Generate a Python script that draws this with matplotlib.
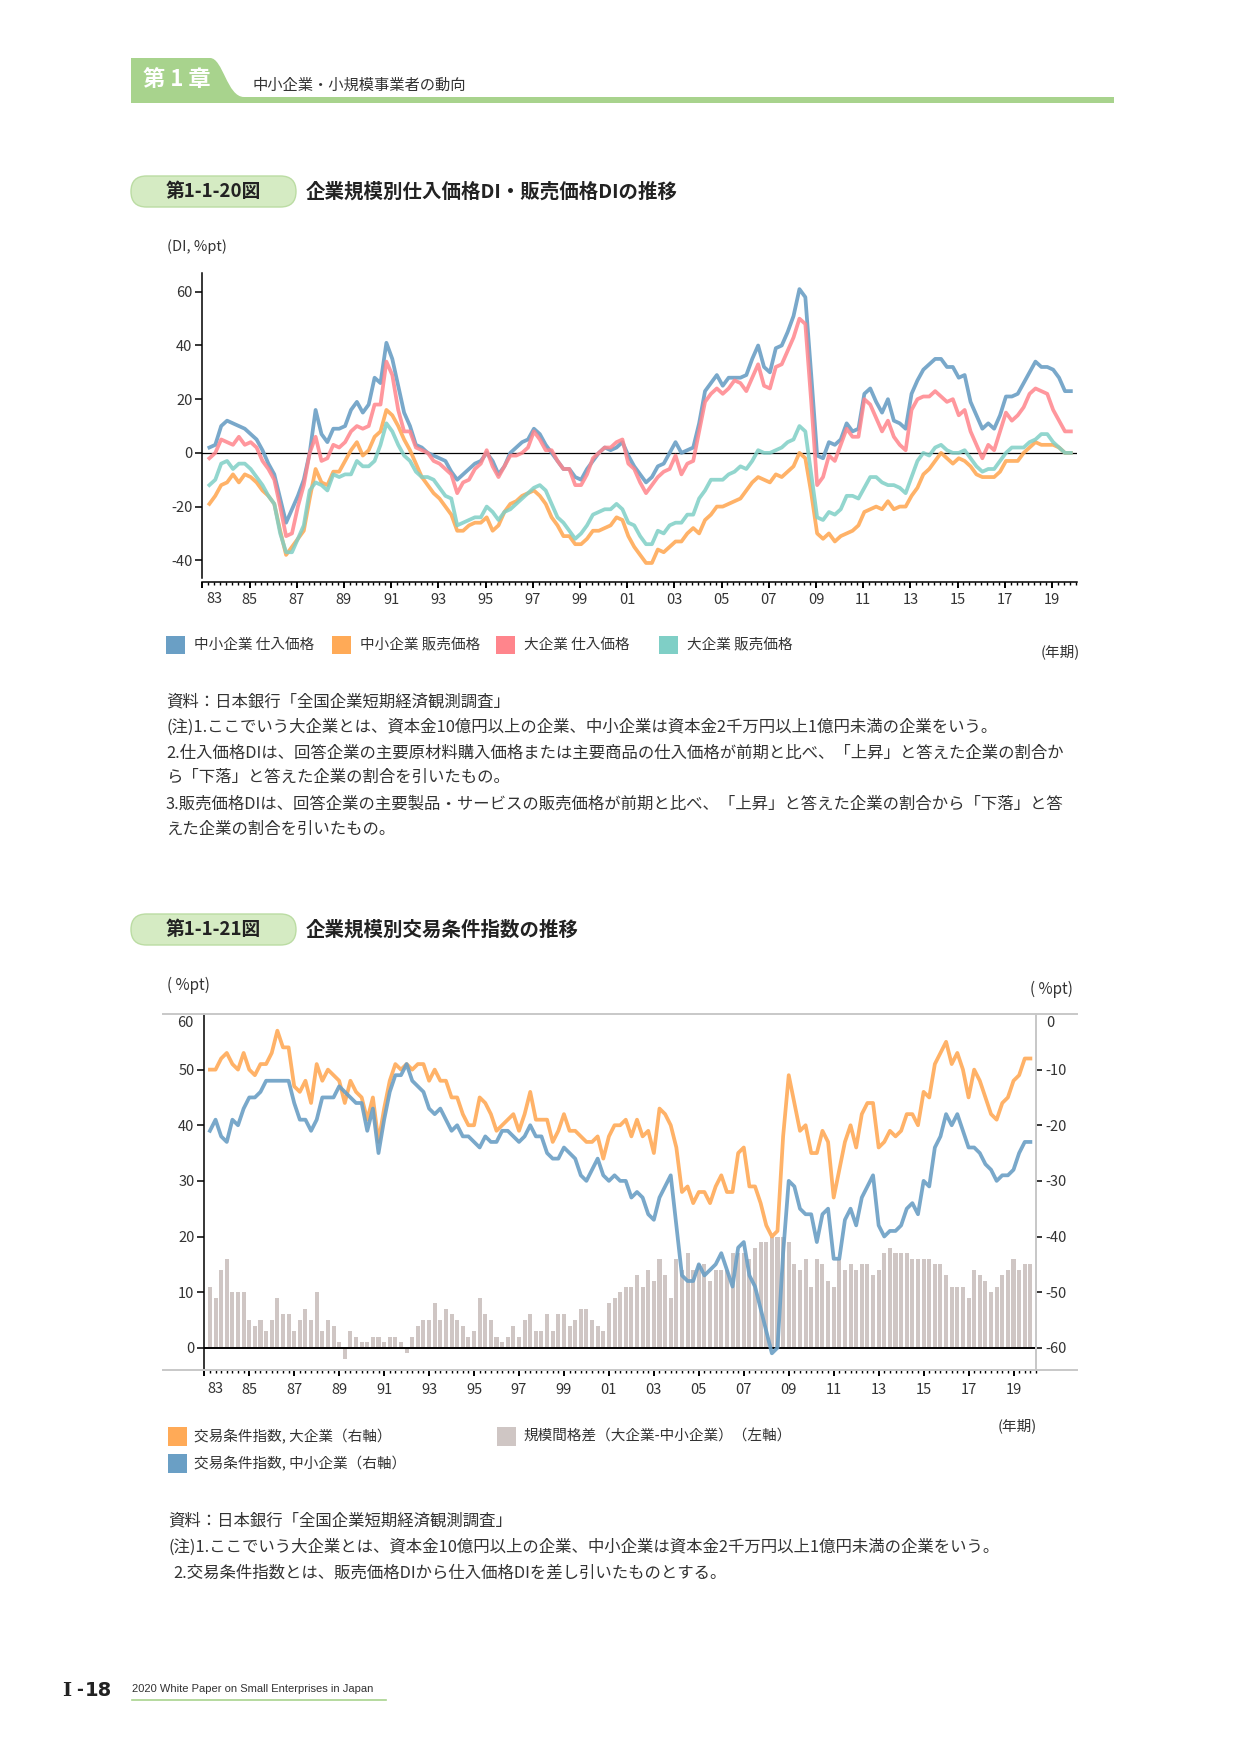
import matplotlib
matplotlib.use('Agg')
import matplotlib.pyplot as plt
from matplotlib.patches import Rectangle, FancyBboxPatch, PathPatch
from matplotlib.path import Path
import numpy as np
import pandas as pd

plt.rcParams['font.family'] = ['Noto Sans CJK JP', 'DejaVu Sans']
plt.rcParams['axes.unicode_minus'] = False

# quarterly survey points, 1983Q2 - 2019Q4
quarters = pd.period_range('1983Q2', '2019Q4', freq='Q')
years = np.asarray(quarters.year + (quarters.quarter - 1) / 4, dtype=float)

# ---- 第1-1-20図 : price DIs ----
small_buy = [2, 3, 10, 12, 11, 10, 9, 7, 5, 1,
             -4, -8, -17, -26, -21, -16, -10, 0, 16, 7,
             4, 9, 9, 10, 16, 19, 15, 18, 28, 26,
             41, 35, 25, 15, 10, 3, 2, 0, -1, -2,
             -3, -7, -10, -8, -6, -4, -3, 0, -3, -8,
             -5, 0, 2, 4, 5, 9, 7, 3, 0, -3,
             -6, -6, -9, -10, -6, -3, 0, 2, 1, 2,
             4, -1, -5, -8, -11, -9, -5, -4, 0, 4,
             0, 1, 2, 11, 23, 26, 29, 25, 28, 28,
             28, 29, 35, 40, 32, 30, 39, 40, 45, 51,
             61, 58, 29, -1, -2, 4, 3, 5, 11, 8,
             9, 22, 24, 19, 15, 20, 12, 11, 9, 22,
             27, 31, 33, 35, 35, 32, 32, 28, 29, 19,
             14, 9, 11, 9, 14, 21, 21, 22, 26, 30,
             34, 32, 32, 31, 28, 23, 23]
small_sell = [-19, -16, -12, -11, -8, -11, -8, -9, -11, -14,
              -16, -19, -29, -38, -35, -32, -29, -17, -6, -11,
              -12, -7, -7, -3, 1, 4, -1, 1, 6, 8,
              16, 14, 10, 5, 1, -4, -9, -12, -15, -17,
              -20, -23, -29, -29, -27, -26, -26, -24, -29, -27,
              -22, -19, -18, -16, -15, -14, -16, -19, -24, -27,
              -31, -31, -34, -34, -32, -29, -29, -28, -27, -24,
              -25, -31, -35, -38, -41, -41, -36, -37, -35, -33,
              -33, -30, -28, -30, -25, -23, -20, -20, -19, -18,
              -17, -14, -11, -9, -10, -11, -8, -9, -7, -5,
              0, -2, -15, -30, -32, -30, -33, -31, -30, -29,
              -27, -22, -21, -20, -21, -18, -21, -20, -20, -16,
              -13, -8, -6, -3, 0, -2, -4, -2, -3, -5,
              -8, -9, -9, -9, -7, -3, -3, -3, 0, 2,
              4, 3, 3, 3, 2, 0, 0]
large_buy = [-2, 0, 5, 4, 3, 6, 3, 4, 2, -3,
             -6, -10, -20, -31, -30, -20, -12, 0, 6, -3,
             -2, 3, 2, 4, 8, 10, 9, 10, 18, 18,
             34, 29, 16, 8, 8, 2, 1, 0, -3, -4,
             -6, -8, -15, -11, -10, -6, -4, 1, -5, -9,
             -5, -1, -1, 0, 2, 8, 5, 1, 1, -3,
             -6, -6, -12, -12, -8, -2, 0, 2, 2, 4,
             5, -4, -6, -11, -15, -12, -9, -7, -6, -1,
             -8, -4, -3, 8, 19, 22, 24, 22, 24, 27,
             26, 23, 28, 33, 25, 24, 32, 33, 38, 43,
             50, 48, 19, -12, -9, -1, -3, 3, 9, 6,
             6, 20, 18, 13, 8, 12, 6, 3, 1, 16,
             20, 21, 21, 23, 21, 19, 20, 14, 16, 8,
             3, -2, 3, 1, 8, 15, 12, 14, 17, 22,
             24, 23, 22, 16, 12, 8, 8]
large_sell = [-12, -10, -4, -3, -6, -4, -4, -6, -9, -12,
              -16, -19, -30, -37, -37, -32, -27, -14, -11, -12,
              -14, -8, -9, -8, -8, -3, -5, -5, -3, 3,
              11, 8, 3, -1, -3, -7, -9, -9, -10, -13,
              -16, -17, -27, -26, -25, -24, -24, -20, -22, -25,
              -22, -21, -19, -17, -15, -13, -12, -14, -19, -24,
              -26, -29, -32, -30, -27, -23, -22, -21, -21, -19,
              -21, -26, -27, -31, -34, -34, -29, -30, -27, -26,
              -26, -23, -23, -17, -14, -10, -10, -10, -8, -7,
              -5, -6, -3, 1, 0, 0, 1, 2, 4, 5,
              10, 8, -8, -24, -25, -22, -23, -21, -16, -16,
              -17, -13, -9, -9, -11, -12, -12, -13, -15, -9,
              -3, 0, -1, 2, 3, 1, 0, 0, 1, -2,
              -5, -7, -6, -6, -3, 0, 2, 2, 2, 4,
              5, 7, 7, 4, 2, 0, 0]

# ---- 第1-1-21図 : terms of trade ----
tot_large = [-10, -10, -8, -7, -9, -10, -7, -10, -11, -9,
             -9, -7, -3, -6, -6, -13, -14, -12, -16, -9,
             -12, -10, -11, -12, -16, -12, -14, -15, -19, -15,
             -23, -17, -12, -9, -10, -9, -10, -9, -9, -12,
             -10, -12, -12, -15, -15, -18, -20, -20, -15, -16,
             -18, -21, -20, -19, -18, -21, -18, -14, -19, -19,
             -19, -23, -21, -18, -21, -21, -22, -23, -23, -22,
             -26, -22, -20, -20, -19, -22, -19, -22, -21, -25,
             -17, -18, -20, -24, -32, -31, -34, -32, -32, -34,
             -31, -29, -32, -32, -25, -24, -31, -31, -34, -38,
             -40, -39, -22, -11, -16, -21, -20, -25, -25, -21,
             -23, -33, -28, -23, -20, -24, -18, -16, -16, -24,
             -23, -21, -22, -21, -18, -18, -20, -14, -15, -9,
             -7, -5, -9, -7, -10, -15, -10, -12, -15, -18,
             -19, -16, -15, -12, -11, -8, -8]
tot_small = [-21, -19, -22, -23, -19, -20, -17, -15, -15, -14,
             -12, -12, -12, -12, -12, -16, -19, -19, -21, -19,
             -15, -15, -15, -13, -14, -15, -16, -16, -21, -17,
             -25, -19, -14, -11, -11, -9, -12, -13, -14, -17,
             -18, -17, -19, -21, -20, -22, -22, -23, -24, -22,
             -23, -23, -21, -21, -22, -23, -22, -20, -22, -22,
             -25, -26, -26, -24, -25, -26, -29, -30, -28, -26,
             -29, -30, -29, -30, -30, -33, -32, -33, -36, -37,
             -33, -31, -29, -38, -47, -48, -48, -45, -47, -46,
             -45, -43, -46, -49, -42, -41, -47, -49, -53, -57,
             -61, -60, -43, -30, -31, -35, -36, -36, -41, -36,
             -35, -44, -44, -37, -35, -38, -33, -31, -29, -38,
             -40, -39, -39, -38, -35, -34, -36, -30, -31, -24,
             -22, -18, -20, -18, -21, -24, -24, -25, -27, -28,
             -30, -29, -29, -28, -25, -23, -23]
size_gap = [11, 9, 14, 16, 10, 10, 10, 5, 4, 5,
            3, 5, 9, 6, 6, 3, 5, 7, 5, 10,
            3, 5, 4, 1, -2, 3, 2, 1, 1, 2,
            2, 1, 2, 2, 1, -1, 2, 4, 5, 5,
            8, 5, 7, 6, 5, 4, 2, 3, 9, 6,
            5, 2, 1, 2, 4, 2, 5, 6, 3, 3,
            6, 3, 6, 6, 4, 5, 7, 7, 5, 4,
            3, 8, 9, 10, 11, 11, 13, 11, 14, 12,
            16, 13, 9, 16, 14, 17, 14, 15, 15, 12,
            14, 14, 14, 17, 17, 17, 16, 18, 19, 19,
            20, 20, 20, 19, 15, 14, 16, 11, 16, 15,
            12, 11, 16, 14, 15, 14, 15, 15, 13, 14,
            17, 18, 17, 17, 17, 16, 16, 16, 16, 15,
            15, 13, 11, 11, 11, 9, 14, 13, 12, 10,
            11, 13, 14, 16, 14, 15, 15]

BLUE = '#6A9FC5'
ORANGE = '#FFAA57'
RED = '#FF858C'
TEAL = '#7FCFC6'
GREY_BAR = '#CFC6C4'
GREEN = '#A8D38D'
TXT = '#333333'

W, H = 1241, 1754
fig = plt.figure(figsize=(W / 100, H / 100), dpi=100)


def box(l, t, r, b):
    # pixel box -> figure fraction rect
    return [l / W, 1 - b / H, (r - l) / W, (b - t) / H]


def year_labels():
    return [''] + [f'{y % 100:02d}' for y in range(1985, 2020, 2)]


# ---------------- chart 1 ----------------
ax1 = fig.add_axes(box(202.3, 273, 1077, 578))
ax1.patch.set_alpha(0)
x1 = years + 0.05
ax1.axhline(0, color='black', lw=0.9, zorder=1)
ax1.plot(x1, small_buy, color=BLUE, lw=2.7, alpha=0.9, zorder=3)
ax1.plot(x1, small_sell, color=ORANGE, lw=2.7, alpha=0.9, zorder=3)
ax1.plot(x1, large_buy, color=RED, lw=2.7, alpha=0.85, zorder=3)
ax1.plot(x1, large_sell, color=TEAL, lw=2.7, alpha=0.85, zorder=3)
ax1.set_xlim(1983, 2020.06)
ax1.set_ylim(-46.6, 67)
ax1.spines['top'].set_visible(False)
ax1.spines['right'].set_visible(False)
ax1.spines['bottom'].set_position(('outward', 3))
ax1.spines['left'].set_linewidth(1.1)
ax1.spines['bottom'].set_linewidth(1.1)
ax1.set_yticks(range(-40, 61, 20))
ax1.tick_params(axis='y', length=5, width=1.1, pad=2, labelsize=10.5, labelcolor=TXT)
ax1.set_xticks(range(1983, 2020, 2))
ax1.set_xticks(np.arange(1983, 2020.01, 0.25), minor=True)
ax1.set_xticklabels(year_labels())
ax1.tick_params(axis='x', which='major', length=4.5, width=1.4, pad=3, labelsize=10.5, labelcolor=TXT)
ax1.tick_params(axis='x', which='minor', length=2, width=1)

# ---------------- chart 2 ----------------
ax2 = fig.add_axes(box(204.3, 1014, 1036, 1370))
ax2.patch.set_alpha(0)
x2 = years
ax2.bar(x2, size_gap, width=0.18, color=GREY_BAR, zorder=2)
ax2.axhline(0, color='black', lw=1.4, zorder=3)
ax2.set_xlim(1983, 2020)
ax2.set_ylim(-4, 60)
ax2.spines['top'].set_visible(False)
ax2.spines['right'].set_color('#C8C8C8')
ax2.spines['right'].set_linewidth(1.4)
ax2.spines['bottom'].set_color('#C8C8C8')
ax2.spines['bottom'].set_linewidth(1.4)
ax2.spines['left'].set_linewidth(1.1)
ax2.set_yticks(range(0, 51, 10))
ax2.tick_params(axis='y', length=5, width=1.1, pad=2, labelsize=10.5, labelcolor=TXT)
ax2.set_xticks(range(1983, 2020, 2))
ax2.set_xticks(np.arange(1983, 2020.01, 0.25), minor=True)
ax2.set_xticklabels(year_labels())
ax2.tick_params(axis='x', which='major', length=4.5, width=1.4, pad=4.5, labelsize=10.5, labelcolor=TXT)
ax2.tick_params(axis='x', which='minor', length=2.2, width=1)

ax2r = ax2.twinx()
ax2r.plot(x2, tot_large, color=ORANGE, lw=2.7, alpha=0.9, zorder=3)
ax2r.plot(x2, tot_small, color=BLUE, lw=2.7, alpha=0.9, zorder=4)
ax2r.set_ylim(-64, 0)
ax2r.set_yticks(range(-60, -9, 10))
for s in ['top', 'left', 'bottom']:
    ax2r.spines[s].set_visible(False)
ax2r.spines['right'].set_color('#C8C8C8')
ax2r.spines['right'].set_linewidth(1.4)
ax2r.tick_params(axis='y', length=4.3, width=1.1, pad=2.5, labelsize=10.5, labelcolor=TXT)

# ---------------- page decorations (pixel overlay) ----------------
ov = fig.add_axes([0, 0, 1, 1])
ov.set_xlim(0, W)
ov.set_ylim(H, 0)
ov.axis('off')
ov.patch.set_alpha(0)

# chapter header
tab = Path([(131, 58), (210, 58), (223, 58), (227, 97), (244, 97), (131, 97), (131, 58)],
           [Path.MOVETO, Path.LINETO, Path.CURVE4, Path.CURVE4, Path.CURVE4, Path.LINETO, Path.CLOSEPOLY])
ov.add_patch(PathPatch(tab, facecolor=GREEN, edgecolor='none'))
ov.add_patch(Rectangle((131, 97), 983, 6, facecolor=GREEN, edgecolor='none'))
ov.text(143, 79, '第 1 章', color='white', fontsize=16, fontweight='bold', va='center', ha='left')
ov.text(253, 85, '中小企業・小規模事業者の動向', color=TXT, fontsize=11, va='center', ha='left')

# figure titles
for top, num, title in [(176, '第1-1-20図', '企業規模別仕入価格DI・販売価格DIの推移'),
                        (914, '第1-1-21図', '企業規模別交易条件指数の推移')]:
    ov.add_patch(FancyBboxPatch((131, top), 165, 31, boxstyle='round,pad=0,rounding_size=15.5',
                                facecolor='#D5EBC3', edgecolor='#BBDCA3', lw=1))
    ov.text(213, top + 15.5, num, fontsize=13.5, fontweight='bold', color='#222222', ha='center', va='center')
    ov.text(306, top + 15.5, title, fontsize=14, fontweight='bold', color='#222222', ha='left', va='center')

# chart 1 texts
ov.text(167, 247, '(DI, %pt)', fontsize=10.5, color=TXT, va='center')
ov.text(214, 599, '83', fontsize=10.5, color=TXT, ha='center', va='center')
legend1 = [(166, BLUE, '中小企業 仕入価格'), (332, ORANGE, '中小企業 販売価格'),
           (496, RED, '大企業 仕入価格'), (659, TEAL, '大企業 販売価格')]
for lx, col, lab in legend1:
    ov.add_patch(Rectangle((lx, 636), 19, 18, facecolor=col, edgecolor='none'))
    ov.text(lx + 28, 645, lab, fontsize=10.5, color=TXT, va='center')
ov.text(1080, 652, '(年期)', fontsize=10.5, color=TXT, ha='right', va='center')

notes1 = ['資料：日本銀行「全国企業短期経済観測調査」',
          '(注)1.ここでいう大企業とは、資本金10億円以上の企業、中小企業は資本金2千万円以上1億円未満の企業をいう。',
          '2.仕入価格DIは、回答企業の主要原材料購入価格または主要商品の仕入価格が前期と比べ、「上昇」と答えた企業の割合か',
          'ら「下落」と答えた企業の割合を引いたもの。',
          '3.販売価格DIは、回答企業の主要製品・サービスの販売価格が前期と比べ、「上昇」と答えた企業の割合から「下落」と答',
          'えた企業の割合を引いたもの。']
for ny, line in zip([702, 727, 753, 777, 804, 829], notes1):
    ov.text(166, ny, line, fontsize=11.8, color=TXT, va='center')

# chart 2 frame lines and texts
ov.plot([163, 1077], [1014, 1014], color='#C8C8C8', lw=1.4)
ov.plot([163, 204.3], [1370, 1370], color='#C8C8C8', lw=1.4)
ov.plot([1036, 1077], [1370, 1370], color='#C8C8C8', lw=1.4)
ov.text(167, 985, '( %pt)', fontsize=11, color=TXT, va='center')
ov.text(1030, 989, '( %pt)', fontsize=11, color=TXT, va='center')
ov.text(194, 1023, '60', fontsize=10.5, color=TXT, ha='right', va='center')
ov.text(1046, 1023, '0', fontsize=10.5, color=TXT, ha='left', va='center')
ov.text(215, 1389, '83', fontsize=10.5, color=TXT, ha='center', va='center')

legend2 = [(168, 1427, ORANGE, '交易条件指数, 大企業（右軸）'),
           (168, 1454, BLUE, '交易条件指数, 中小企業（右軸）'),
           (497, 1427, GREY_BAR, '規模間格差（大企業-中小企業）（左軸）')]
for lx, ly, col, lab in legend2:
    ov.add_patch(Rectangle((lx, ly), 19, 19, facecolor=col, edgecolor='none'))
    ov.text(lx + 26, ly + 10, lab, fontsize=10.5, color=TXT, va='center')
ov.text(1037, 1426, '(年期)', fontsize=10.5, color=TXT, ha='right', va='center')

notes2 = [(168, 1521, '資料：日本銀行「全国企業短期経済観測調査」'),
          (168, 1547, '(注)1.ここでいう大企業とは、資本金10億円以上の企業、中小企業は資本金2千万円以上1億円未満の企業をいう。'),
          (173, 1573, '2.交易条件指数とは、販売価格DIから仕入価格DIを差し引いたものとする。')]
for nx, ny, line in notes2:
    ov.text(nx, ny, line, fontsize=11.8, color=TXT, va='center')

# footer
ov.text(62, 1691, 'I', fontsize=14, fontweight='bold', family='DejaVu Serif', color='#222222', va='center')
ov.text(76, 1690, '-', fontsize=12, fontweight='bold', family='DejaVu Sans', color='#222222', va='center')
ov.text(85, 1691, '18', fontsize=14, fontweight='bold', family='DejaVu Sans', color='#222222', va='center')
ov.text(132, 1689, '2020 White Paper on Small Enterprises in Japan', fontsize=8,
        family='Liberation Sans', color=TXT, va='center')
ov.plot([132, 386], [1700, 1700], color=GREEN, lw=1.2)

fig.savefig('out.png', dpi=100)
